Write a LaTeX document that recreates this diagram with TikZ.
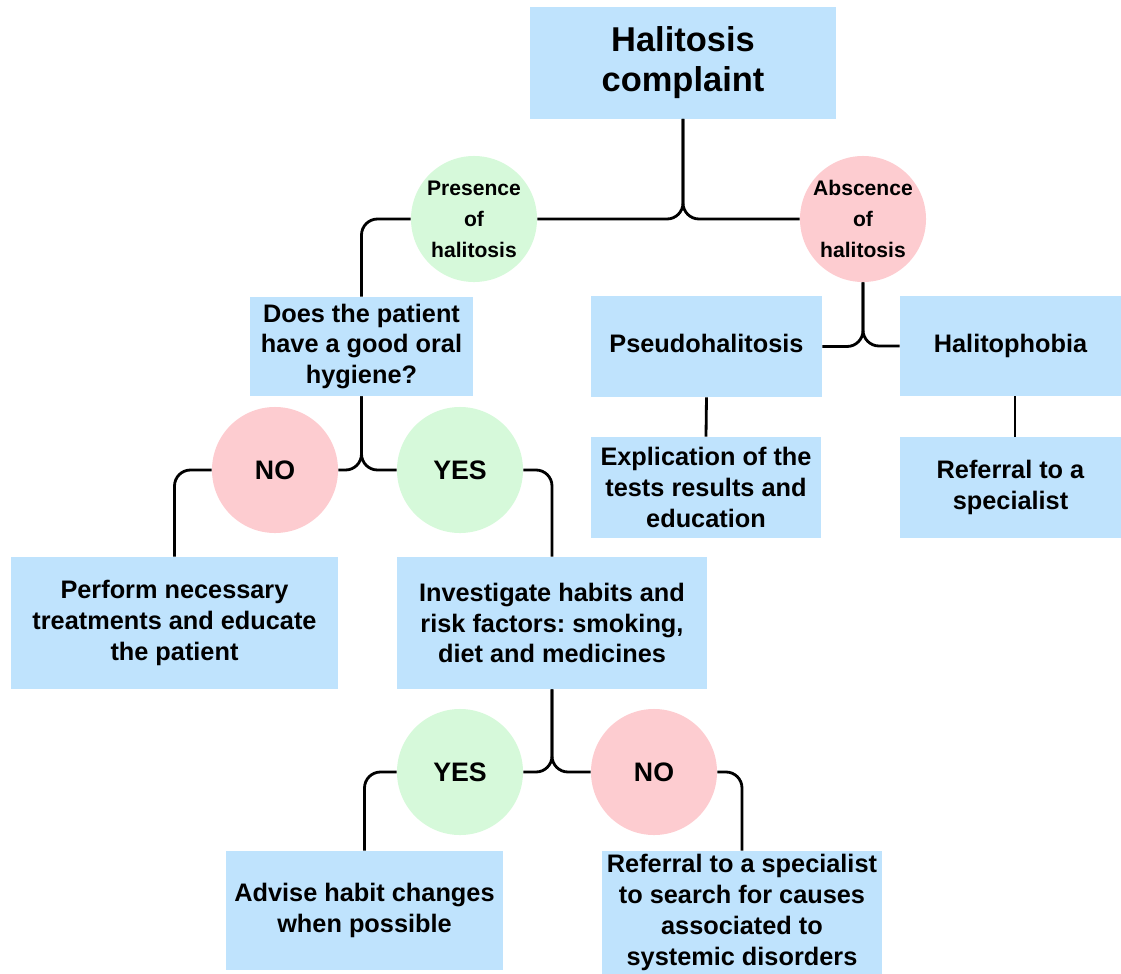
\documentclass[tikz,border=0pt]{standalone}
\usepackage{fontspec}
\setmainfont{Liberation Sans}
\frenchspacing
\definecolor{boxblue}{RGB}{191,227,253}
\definecolor{yesgreen}{RGB}{214,249,218}
\definecolor{nopink}{RGB}{253,204,208}
\tikzset{
	stepbox/.style={fill=boxblue, align=center, inner sep=0pt, font=\fontsize{18}{22}\selectfont\bfseries},
	answer/.style={circle, minimum size=3.15cm, inner sep=0pt, align=center, font=\fontsize{19}{22}\selectfont\bfseries},
	state/.style={circle, minimum size=3.15cm, inner sep=0pt, align=center, font=\fontsize{15}{22}\selectfont\bfseries},
	link/.style={line width=2pt, rounded corners=0.4cm}
}
\begin{document}
	\begin{tikzpicture}[x=0.025cm, y=-0.025cm]
		\useasboundingbox (0,0) rectangle (1121,974);
		\node[stepbox, minimum width=7.65cm, minimum height=2.775cm, font=\fontsize{24.5}{28.5}\selectfont\bfseries] (complaint) at (683,63) {Halitosis\\complaint};
		\node[state, fill=yesgreen] (presence) at (474,219) {Presence\\of\\halitosis};
		\node[state, fill=nopink] (absence) at (863,219) {Abscence\\of\\halitosis};
		\node[stepbox, minimum width=5.575cm, minimum height=2.475cm] (hygiene) at (361.5,346.5) {Does the patient\\have a good oral\\hygiene?};
		\node[stepbox, minimum width=5.775cm, minimum height=2.525cm, text depth=0.15cm] (pseudo) at (706.5,346.5) {Pseudohalitosis};
		\node[stepbox, minimum width=5.525cm, minimum height=2.5cm, text depth=0.15cm] (phobia) at (1010.5,346) {Halitophobia};
		\node[stepbox, minimum width=5.75cm, minimum height=2.525cm] (explication) at (706,487.5) {Explication of the\\tests results and\\education};
		\node[stepbox, minimum width=5.525cm, minimum height=2.525cm] (referral) at (1010.5,487.5) {Referral to a\\specialist};
		\node[answer, fill=nopink] (no) at (275,470) {NO};
		\node[answer, fill=yesgreen] (yes) at (460,470) {YES};
		\node[stepbox, minimum width=8.175cm, minimum height=3.3cm] (perform) at (174.5,623) {Perform necessary\\treatments and educate\\the patient};
		\node[stepbox, minimum width=7.75cm, minimum height=3.3cm] (habits) at (552,623) {Investigate habits and\\risk factors: smoking,\\diet and medicines};
		\node[answer, fill=yesgreen] (yestwo) at (460,772) {YES};
		\node[answer, fill=nopink] (notwo) at (654,772) {NO};
		\node[stepbox, minimum width=6.925cm, minimum height=2.975cm] (advise) at (364.5,910.5) {Advise habit changes\\when possible};
		\node[stepbox, minimum width=7cm, minimum height=3.075cm] (specialist) at (742,912.5) {Referral to a specialist\\to search for causes\\associated to\\systemic disorders};

		\draw[link] (complaint.south) -- (complaint.south |- presence.east) -- (presence.east);
		\draw[link] (complaint.south) -- (complaint.south |- absence.west) -- (absence.west);
		\draw[link] (presence.west) -| (hygiene.north);
		\draw[link] (absence.south) -- (absence.south |- pseudo.east) -- (pseudo.east);
		\draw[link] (absence.south) -- (absence.south |- phobia.west) -- (phobia.west);
		\draw[link] (pseudo.south) -- (explication.north);
		\draw[link] ([xshift=0.11cm]phobia.south) -- ([xshift=0.11cm]referral.north);
		\draw[link] (hygiene.south) -- (hygiene.south |- no.east) -- (no.east);
		\draw[link] (hygiene.south) -- (hygiene.south |- yes.west) -- (yes.west);
		\draw[link] (no.west) -| (perform.north);
		\draw[link] (yes.east) -| (habits.north);
		\draw[link] (habits.south) -- (habits.south |- yestwo.east) -- (yestwo.east);
		\draw[link] (habits.south) -- (habits.south |- notwo.west) -- (notwo.west);
		\draw[link] (yestwo.west) -| (advise.north);
		\draw[link] (notwo.east) -| (specialist.north);
	\end{tikzpicture}
\end{document}
